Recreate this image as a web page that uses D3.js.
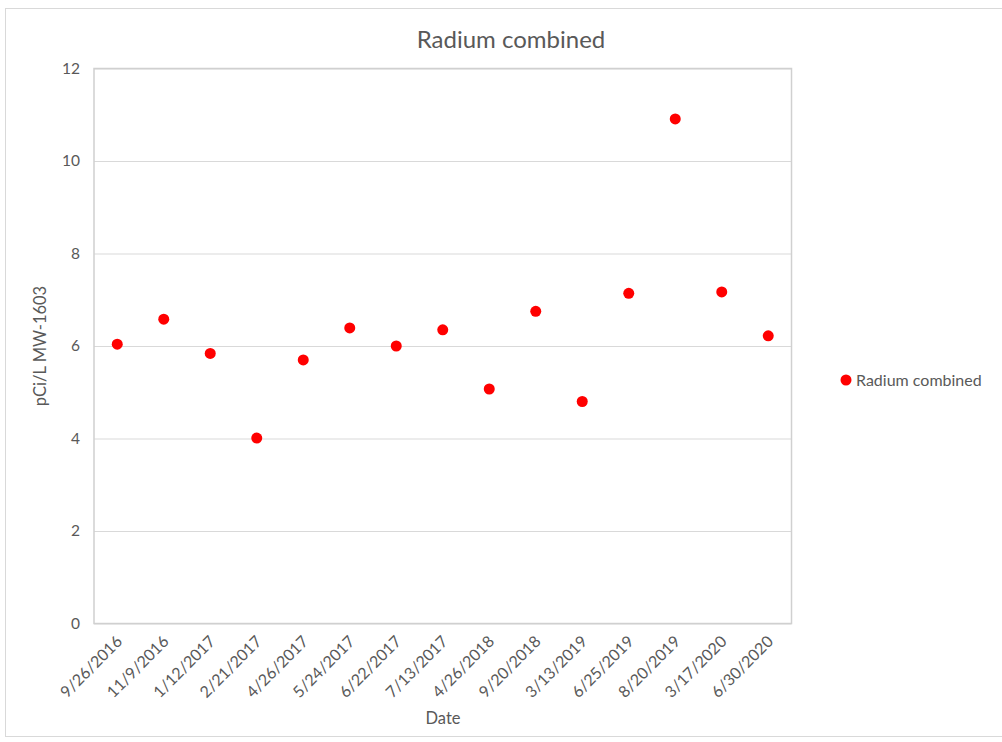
<!DOCTYPE html>
<html><head><meta charset="utf-8">
<script src="https://cdn.jsdelivr.net/npm/d3@7"></script>
<style>body{margin:0;background:#fff}svg{display:block}text{font-family:Lato,"Open Sans",sans-serif;fill:#595959}</style>
</head><body><svg id="c" width="1002" height="742"></svg>
<script>
const dates = ["9/26/2016","11/9/2016","1/12/2017","2/21/2017","4/26/2017","5/24/2017","6/22/2017","7/13/2017","4/26/2018","9/20/2018","3/13/2019","6/25/2019","8/20/2019","3/17/2020","6/30/2020"];
const radium = [6.04,6.58,5.84,4.01,5.70,6.39,6.00,6.35,5.07,6.75,4.80,7.14,10.91,7.17,6.22];
const yTicks = [0,2,4,6,8,10,12];
const title = "Radium combined";
const seriesName = "Radium combined";
const yTitle = "pCi/L MW-1603";
const xTitle = "Date";

const svg = d3.select("#c");
const m = {l:94, r:791.5, t:68.5, b:623.5};
const fTick = 15.5, fXTick = 16, fLegend = 16, fTitle = 24, fAxis = 16.5;
// outer chart border
svg.append("rect").attr("x",5.5).attr("y",8.5).attr("width",1010).attr("height",728).attr("fill","#fff").attr("stroke","#d9d9d9");

const x = d3.scaleBand().domain(dates).range([m.l,m.r]);
const y = d3.scaleLinear().domain([0,12]).range([m.b,m.t]);

// gridlines
const yAxis = d3.axisLeft(y).tickValues(yTicks).tickSize(-(m.r-m.l)).tickPadding(14);
const gy = svg.append("g").attr("transform",`translate(${m.l},0)`).call(yAxis);
gy.select(".domain").remove();
gy.selectAll(".tick line").attr("stroke","#d9d9d9").attr("stroke-width",1);
gy.selectAll(".tick text").attr("font-size",fTick).style("fill","#595959");

// plot border
svg.append("rect").attr("x",m.l).attr("y",m.t).attr("width",m.r-m.l).attr("height",m.b-m.t).attr("fill","none").attr("stroke","#d0d0d0").attr("stroke-width",1.5);

// x axis labels
const xAxis = d3.axisBottom(x).tickSize(0).tickPadding(0);
const gx = svg.append("g").attr("transform",`translate(0,${m.b})`).call(xAxis);
gx.select(".domain").remove();
gx.selectAll(".tick text")
  .attr("font-size",fXTick).style("fill","#595959")
  .attr("text-anchor","end")
  .attr("dy",0).attr("y",0)
  .attr("transform","translate(6,19) rotate(-45)");

// points
svg.append("g").selectAll("circle").data(dates).join("circle")
  .attr("cx",d=>x(d)+x.bandwidth()/2)
  .attr("cy",(d,i)=>y(radium[i]))
  .attr("r",5.5).attr("fill","#ff0000");

// title
svg.append("text").attr("x",511).attr("y",48).attr("text-anchor","middle").attr("font-size",fTitle).text(title);
// axis titles
svg.append("text").attr("transform",`translate(46,${(m.t+m.b)/2}) rotate(-90)`).attr("text-anchor","middle").attr("font-size",fAxis).text(yTitle);
svg.append("text").attr("x",443).attr("y",724).attr("text-anchor","middle").attr("font-size",fAxis).text(xTitle);
// legend
svg.append("circle").attr("cx",846).attr("cy",380).attr("r",5.5).attr("fill","#ff0000");
svg.append("text").attr("x",856).attr("y",385.5).attr("font-size",fLegend).text(seriesName);
</script></body></html>
